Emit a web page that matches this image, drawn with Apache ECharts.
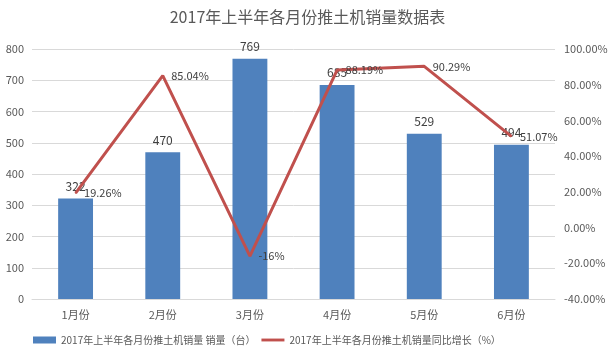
<!DOCTYPE html>
<html><head><meta charset="utf-8">
<script src="https://cdn.jsdelivr.net/npm/echarts@6/dist/echarts.min.js"></script>
<style>html,body{margin:0;padding:0;background:#fff}#c{width:615px;height:360px}</style>
</head><body><div id="c"></div>
<script>
const categories = ['1月份','2月份','3月份','4月份','5月份','6月份'];
const sales = [322, 470, 769, 685, 529, 494];
const growth = [19.26, 85.04, -16, 88.19, 90.29, 51.07];
const growthLabels = ['19.26%','85.04%','-16%','88.19%','90.29%','51.07%'];
const leftTicks = [0, 800, 100];
const rightTicks = [-40, 100, 20];
const seriesNames = ['2017年上半年各月份推土机销量 销量（台）','2017年上半年各月份推土机销量同比增长（%）'];
const titleText = '2017年上半年各月份推土机销量数据表';

const font = '"Microsoft YaHei","Noto Sans CJK SC",sans-serif';
const chart = echarts.init(document.getElementById('c'));
chart.setOption({
  animation: false,
  textStyle: {fontFamily: font},
  title: {text: titleText, left: 'center', top: 4,
    textStyle: {fontSize: 16, fontWeight: 'normal', color: '#595959', fontFamily: font}},
  grid: {left: 32, right: 60, top: 49, bottom: 61},
  legend: {bottom: 10, left: 28, itemGap: 6, itemWidth: 23, itemHeight: 7,
    textStyle: {fontSize: 10, color: '#595959'},
    data: [{name: seriesNames[0], icon: 'rect'},
           {name: seriesNames[1], icon: 'path://M0,0H24V3H0Z'}]},
  xAxis: {type: 'category', data: categories,
    axisLine: {show: true, lineStyle: {color: '#d9d9d9'}}, axisTick: {show: false},
    axisLabel: {color: '#595959', fontSize: 11, margin: 10}},
  yAxis: [
    {type: 'value', min: leftTicks[0], max: leftTicks[1], interval: leftTicks[2],
      axisLine: {show: false}, axisTick: {show: false},
      axisLabel: {color: '#595959', fontSize: 11, margin: 8},
      splitLine: {lineStyle: {color: '#d9d9d9'}}},
    {type: 'value', min: rightTicks[0], max: rightTicks[1], interval: rightTicks[2],
      axisLine: {show: false}, axisTick: {show: false},
      axisLabel: {color: '#595959', fontSize: 11, margin: 9,
        formatter: v => v.toFixed(2) + '%'},
      splitLine: {show: false}}
  ],
  series: [
    {name: seriesNames[0], type: 'bar', data: sales, barWidth: '40%',
      itemStyle: {color: '#4f81bd'},
      label: {show: true, position: 'top', color: '#404040', fontSize: 12, distance: 6}},
    {name: seriesNames[1], type: 'line', yAxisIndex: 1, data: growth,
      symbol: 'circle', symbolSize: 1, showSymbol: true,
      lineStyle: {color: '#c0504d', width: 3}, itemStyle: {color: '#c0504d'},
      label: {show: true, position: 'right', color: '#404040', fontSize: 11, distance: 8,
        formatter: p => growthLabels[p.dataIndex]}}
  ]
});
</script></body></html>
